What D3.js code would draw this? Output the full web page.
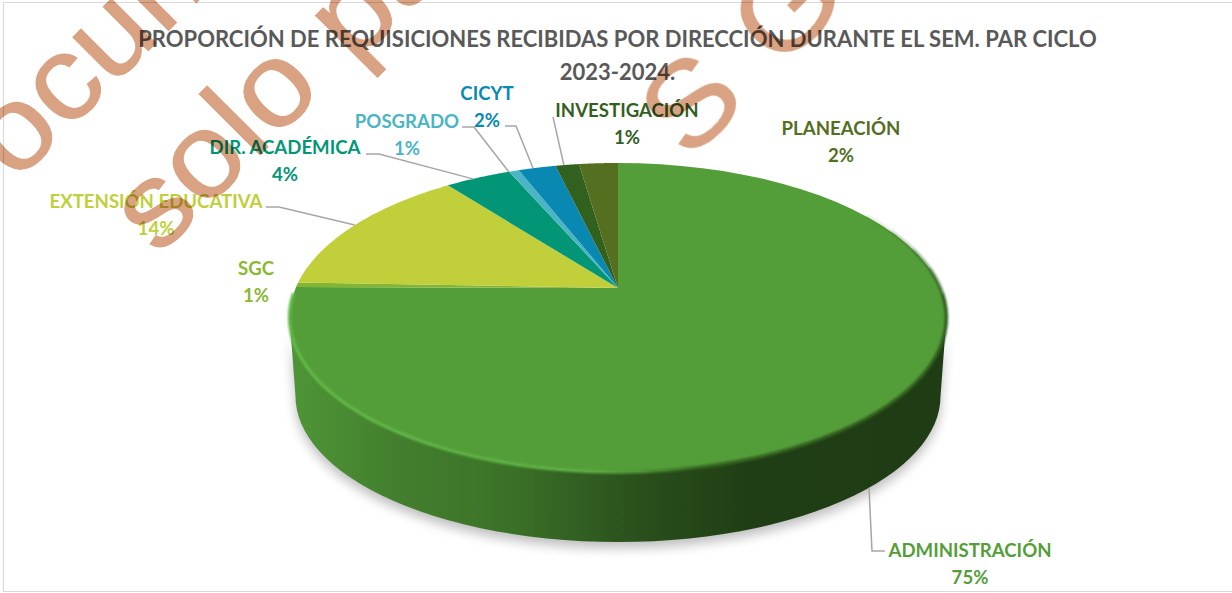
<!DOCTYPE html>
<html lang="es">
<head>
<meta charset="utf-8">
<script src="https://cdn.jsdelivr.net/npm/d3@7/dist/d3.min.js"></script>
<style>
html,body{margin:0;padding:0;background:#fff;overflow:hidden}
svg{display:block;background:#fff}
text{font-family:Lato,"Open Sans",sans-serif;font-weight:700}
.wm text{font-family:"Liberation Sans",Arial,sans-serif;font-weight:400}
</style>
</head>
<body>
<svg id="chart" width="1232" height="593"></svg>
<script>
// ---- data ----
const categories = ["ADMINISTRACIÓN","SGC","EXTENSIÓN EDUCATIVA","DIR. ACADÉMICA","POSGRADO","CICYT","INVESTIGACIÓN","PLANEACIÓN"];
const shares     = [75.1, 0.5, 14, 3.9, 0.6, 2.2, 1.4, 2.3];
const shareLabels= ["75%","1%","14%","4%","1%","2%","1%","2%"];
const sliceColors= ["#549e39","#84b532","#c0cf3a","#029676","#4ab5c4","#0989b1","#32601f","#536f1f"];
const titleLines = ["PROPORCIÓN DE REQUISICIONES RECIBIDAS POR DIRECCIÓN DURANTE EL SEM. PAR CICLO","2023-2024."];
const watermark  = ["Documento","solo","para","SGC"];

// ---- layout ----
const W = 1232, H = 593;
const labelPos = [[970,557],[256,275],[156,208],[285,154],[407,128],[487,100],[627,117],[841,135]];
const leaderElbow = [[[885,551],[872,551]],null,[[266,207],[279,207]],[[366,154],[379,154]],[[462,127],[474,127]],[[505,126],[516,126]],[[553,117]],null];
const leaderNudge = [0,0,0,-0.02,-0.02,-0.015,-0.012,0];
const apex = {x:618,y:288}, A = 322.4, B = 148.9, K = 0.191;
const svg = d3.select("#chart");
const defs = svg.append("defs");

const pie = d3.pie().value(d=>d).sort(null).startAngle(0).endAngle(2*Math.PI);
const arcs = pie(shares);

// perspective projection of the unit disc (a = clockwise angle from the top)
function rim(a){
  const u=Math.sin(a), v=-Math.cos(a), w=1-K*v;
  return [apex.x+A*u/w, apex.y+B*v/w];
}
function rimLow(a){
  const [x,y]=rim(a);
  return [apex.x+(x-apex.x)*0.982, 396+(y-317.5)*0.945];
}
const deg = d=>d*Math.PI/180;
const line = d3.line();
const samples=(a0,a1,fn)=>d3.range(0,61).map(i=>fn(a0+(a1-a0)*i/60));

// filters and gradients
const blur=(id,s)=>defs.append("filter").attr("id",id).attr("x","-10%").attr("y","-10%").attr("width","120%").attr("height","120%")
  .append("feGaussianBlur").attr("stdDeviation",s);
blur("b6",6); blur("b1",1.1);
const grad=(id,stops)=>{const g=defs.append("linearGradient").attr("id",id).attr("gradientUnits","userSpaceOnUse")
  .attr("x1",289).attr("x2",946).attr("y1",0).attr("y2",0);
  stops.forEach(s=>g.append("stop").attr("offset",s[0]).attr("stop-color",s[1]));};
grad("side",[[0,"#4f9637"],[0.16,"#437f2e"],[0.33,"#3c7228"],[0.47,"#2f5a20"],[0.55,"#294d1b"],[0.7,"#203e15"],[1,"#1f3c14"]]);
grad("edge",[[0,"#5fb845"],[0.45,"#5cae42"],[0.52,"#4f9937"],[0.62,"#33661f"],[0.8,"#2d5a1e"],[1,"#2d5a1e"]]);

// drop shadow and side wall (between the widest points of both rims)
const sidePts=[...samples(deg(101),deg(259),rim),...samples(deg(259),deg(101),rimLow)];
svg.append("path").attr("d",line(sidePts)+"Z").attr("fill","#000").attr("opacity",.26)
  .attr("filter","url(#b6)").attr("transform","translate(0,6)");
svg.append("path").attr("d",line(sidePts)+"Z").attr("fill","url(#side)");

// top face
svg.append("g").selectAll("path").data(arcs).join("path")
  .attr("d",d=>line([[apex.x,apex.y],...samples(d.startAngle,d.endAngle,rim)])+"Z")
  .attr("fill",(d,i)=>sliceColors[i]);

// bevel on the front edge, fading in on the far right
const bevelSteps=[[58,66,.15],[66,74,.3],[74,82,.5],[82,92,.75],[92,268,1]];
svg.append("g").attr("filter","url(#b1)").selectAll("path").data(bevelSteps).join("path")
  .attr("d",d=>line(samples(deg(d[0]),deg(d[1]),rim))).attr("fill","none")
  .attr("stroke","url(#edge)").attr("stroke-width",3.4).attr("stroke-opacity",d=>d[2]);

// leader lines
const leaders = arcs.map((d,i)=>{
  if(!leaderElbow[i]) return null;
  const mid=(d.startAngle+d.endAngle)/2+leaderNudge[i];
  const end = i===0 ? rimLow(deg(137)) : rim(mid);
  return [...leaderElbow[i],end];
}).filter(Boolean);
svg.append("g").selectAll("path").data(leaders).join("path")
  .attr("d",d=>line(d)).attr("fill","none").attr("stroke","#a6a6a6").attr("stroke-width",1.5);

// labels
const lab = svg.append("g").selectAll("text").data(categories).join("text")
  .attr("text-anchor","middle").attr("font-size",18.6)
  .attr("fill",(d,i)=>sliceColors[i]==="#84b532"?"#8ab833":sliceColors[i]);
lab.append("tspan").attr("x",(d,i)=>labelPos[i][0]).attr("y",(d,i)=>labelPos[i][1]).text(d=>d);
lab.append("tspan").attr("x",(d,i)=>labelPos[i][0]).attr("y",(d,i)=>labelPos[i][1]+26.5).text((d,i)=>shareLabels[i]);

// title
svg.append("g").selectAll("text").data(titleLines).join("text")
  .attr("x",617.5).attr("y",(d,i)=>46.5+i*33).attr("text-anchor","middle")
  .attr("font-size",22).attr("fill","#595959").text(d=>d);

// frame
svg.append("path").attr("d",`M${W+5},2.5H3.5V${H-1.5}H${W+5}`).attr("fill","none").attr("stroke","#d9d9d9").attr("stroke-width",1.2);

// watermark
const wm = svg.append("g").attr("class","wm").style("mix-blend-mode","multiply")
  .attr("fill","#d8a283").attr("stroke","#d8a283").attr("stroke-width",1).attr("font-size",119);
wm.append("text").attr("transform","translate(-50,249) rotate(-45) scale(1.08,1)").text(watermark[0]);
wm.append("text").attr("transform","translate(158,257) rotate(-45) scale(1.08,1)").text(watermark[1]);
wm.append("text").attr("transform","translate(354,66) rotate(-45) scale(1.08,1)").text(watermark[2]);
wm.append("text").attr("transform","translate(689,162) rotate(-45) scale(1.08,1)").attr("letter-spacing",39).text(watermark[3]);
</script>
</body>
</html>
